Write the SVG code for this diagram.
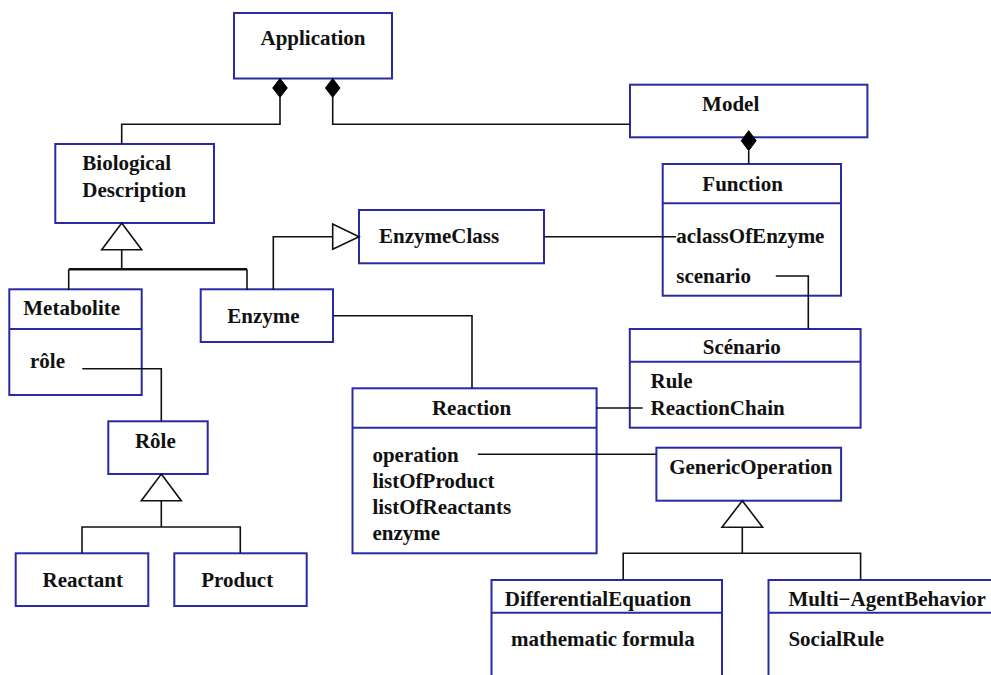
<svg xmlns="http://www.w3.org/2000/svg" width="991" height="675" viewBox="0 0 991 675">
  <style>
    .box { fill: #ffffff; stroke: #2a2aa6; stroke-width: 2; }
    .div { stroke: #2a2aa6; stroke-width: 2; fill: none; }
    .con { stroke: #111111; stroke-width: 1.6; fill: none; }
    .dia { fill: #000000; stroke: #000000; stroke-width: 1; }
    .tri { fill: #ffffff; stroke: #111111; stroke-width: 1.6; }
    text { font-weight: bold; font-size: 21px; fill: #111111; }
    .c { text-anchor: middle; }
  </style>

  <g id="nodes" font-family="'Liberation Serif', 'Times New Roman', 'DejaVu Serif', serif">
    <g id="application">
      <rect class="box" x="234" y="13" width="158" height="65.5"/>
      <text class="c" x="313" y="45">Application</text>
    </g>

    <g id="model">
      <rect class="box" x="630" y="84.7" width="237.4" height="52.6"/>
      <text class="c" x="730.7" y="110.7">Model</text>
    </g>

    <g id="biological-description">
      <rect class="box" x="55.3" y="144" width="158.7" height="79"/>
      <text x="82.3" y="170">Biological</text>
      <text x="82.3" y="196.7">Description</text>
    </g>

    <g id="function">
      <rect class="box" x="662.7" y="164" width="178.3" height="131.7"/>
      <line class="div" x1="662.7" y1="203.3" x2="841" y2="203.3"/>
      <text class="c" x="742.6" y="190.7">Function</text>
      <text x="676.3" y="242.7">aclassOfEnzyme</text>
      <text x="676.3" y="282.7">scenario</text>
    </g>

    <g id="enzyme-class">
      <rect class="box" x="359" y="210" width="185" height="53.3"/>
      <text x="379" y="242.7">EnzymeClass</text>
    </g>

    <g id="metabolite">
      <rect class="box" x="9.3" y="289.3" width="132.4" height="105.7"/>
      <line class="div" x1="9.3" y1="329" x2="141.7" y2="329"/>
      <text x="23.3" y="315">Metabolite</text>
      <text x="30" y="368.3">rôle</text>
    </g>

    <g id="enzyme">
      <rect class="box" x="200.7" y="289.3" width="132.3" height="52.7"/>
      <text class="c" x="263.5" y="322.7">Enzyme</text>
    </g>

    <g id="scenario">
      <rect class="box" x="629.8" y="329" width="230.8" height="98.7"/>
      <line class="div" x1="629.8" y1="361.7" x2="860.6" y2="361.7"/>
      <text class="c" x="741.8" y="354.3">Scénario</text>
      <text x="650.5" y="388.3">Rule</text>
      <text x="650.5" y="415">ReactionChain</text>
    </g>

    <g id="reaction">
      <rect class="box" x="352.5" y="388.3" width="244.1" height="165"/>
      <line class="div" x1="352.5" y1="427.7" x2="596.6" y2="427.7"/>
      <text class="c" x="471.6" y="415">Reaction</text>
      <text x="372.4" y="461.7">operation</text>
      <text x="372.4" y="488.3">listOfProduct</text>
      <text x="372.4" y="514">listOfReactants</text>
      <text x="372.4" y="540">enzyme</text>
    </g>

    <g id="role">
      <rect class="box" x="108.3" y="421.3" width="99.4" height="52.7"/>
      <text class="c" x="155.3" y="447.7">Rôle</text>
    </g>

    <g id="generic-operation">
      <rect class="box" x="656.4" y="447.7" width="184.7" height="53"/>
      <text x="669.2" y="474">GenericOperation</text>
    </g>

    <g id="reactant">
      <rect class="box" x="15.7" y="553.3" width="132.6" height="52.7"/>
      <text class="c" x="82.8" y="586.7">Reactant</text>
    </g>

    <g id="product">
      <rect class="box" x="174.3" y="553.3" width="132.4" height="52.7"/>
      <text class="c" x="237.2" y="586.7">Product</text>
    </g>

    <g id="differential-equation">
      <rect class="box" x="491.5" y="580" width="230.5" height="110"/>
      <line class="div" x1="491.5" y1="612.7" x2="722" y2="612.7"/>
      <text x="504.8" y="606">DifferentialEquation</text>
      <text x="511" y="645.7">mathematic formula</text>
    </g>

    <g id="multi-agent-behavior">
      <rect class="box" x="768.5" y="580" width="240" height="110"/>
      <line class="div" x1="768.5" y1="612.7" x2="995" y2="612.7"/>
      <text x="788.4" y="606">Multi−AgentBehavior</text>
      <text x="788.4" y="645.7">SocialRule</text>
    </g>
  </g>

  <!-- connectors, drawn over the boxes so links reaching into a compartment stay visible -->
  <g id="connectors">
    <!-- Application composition links -->
    <polyline class="con" points="280,97 280,124.3 121.7,124.3 121.7,144"/>
    <polyline class="con" points="332.7,97 332.7,124.3 630,124.3"/>
    <!-- Model composes Function -->
    <line class="con" x1="748.7" y1="150.7" x2="748.7" y2="164"/>
    <!-- generalisation: Metabolite, Enzyme -> Biological Description -->
    <line class="con" x1="121.7" y1="249.7" x2="121.7" y2="269.3"/>
    <line class="con" x1="68.7" y1="269.3" x2="247" y2="269.3" style="stroke-width:2.6"/>
    <line class="con" x1="68.7" y1="269.3" x2="68.7" y2="290"/>
    <line class="con" x1="247" y1="269.3" x2="247" y2="290"/>
    <!-- Enzyme -> EnzymeClass -->
    <polyline class="con" points="273.3,290 273.3,236.7 332.7,236.7"/>
    <!-- EnzymeClass — aclassOfEnzyme -->
    <line class="con" x1="544" y1="236.7" x2="676" y2="236.7"/>
    <!-- scenario — Scénario -->
    <polyline class="con" points="775.8,276 808.3,276 808.3,329"/>
    <!-- Enzyme — Reaction -->
    <polyline class="con" points="333,315.7 472,315.7 472,388.3"/>
    <!-- Reaction — ReactionChain -->
    <line class="con" x1="596.6" y1="408" x2="642.7" y2="408"/>
    <!-- operation — GenericOperation -->
    <line class="con" x1="477.8" y1="454.3" x2="656.4" y2="454.3"/>
    <!-- rôle — Rôle -->
    <polyline class="con" points="82.3,368.7 161.3,368.7 161.3,421.3"/>
    <!-- Reactant, Product -> Rôle -->
    <line class="con" x1="161.3" y1="500.7" x2="161.3" y2="527"/>
    <polyline class="con" points="82,553.3 82,527 240.3,527 240.3,553.3"/>
    <!-- DifferentialEquation, Multi-AgentBehavior -> GenericOperation -->
    <line class="con" x1="742.3" y1="527.3" x2="742.3" y2="553.3"/>
    <polyline class="con" points="623.2,580 623.2,553.3 860.6,553.3 860.6,580"/>

    <!-- composition diamonds -->
    <polygon class="dia" points="280,78.5 287.3,88 280,97.3 272.7,88"/>
    <polygon class="dia" points="332.7,78.5 340,88 332.7,97.3 325.4,88"/>
    <polygon class="dia" points="748.7,130.7 756.2,140.7 748.7,150.7 741.2,140.7"/>
    <!-- generalisation triangles -->
    <polygon class="tri" points="121.7,223 141.7,249.7 101.7,249.7"/>
    <polygon class="tri" points="359,236.7 332.7,249.3 332.7,224"/>
    <polygon class="tri" points="161.3,474 181.3,500.7 141.3,500.7"/>
    <polygon class="tri" points="742.3,500.7 762.6,527.3 722,527.3"/>
  </g>
</svg>
